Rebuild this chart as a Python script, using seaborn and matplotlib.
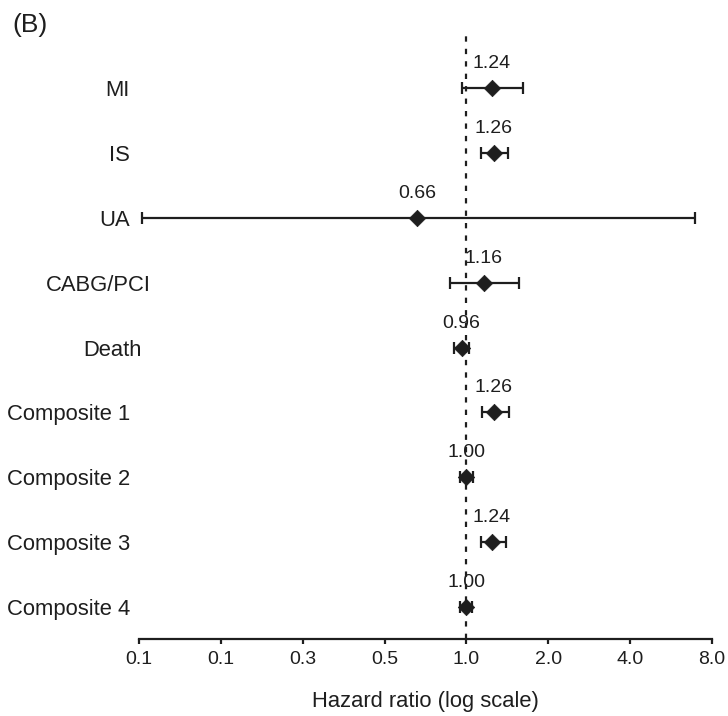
import numpy as np
import pandas as pd
import matplotlib
matplotlib.use("Agg")
import matplotlib.pyplot as plt
import matplotlib.transforms as mtransforms
import seaborn as sns

outcomes = ["MI", "IS", "UA", "CABG/PCI", "Death",
            "Composite 1", "Composite 2", "Composite 3", "Composite 4"]
hazard_ratio = [1.24, 1.26, 0.66, 1.16, 0.96, 1.26, 1.00, 1.24, 1.00]
ci_lower = [0.965, 1.13, 0.064, 0.87, 0.90, 1.14, 0.95, 1.13, 0.95]
ci_upper = [1.62, 1.42, 6.9, 1.56, 1.02, 1.43, 1.06, 1.40, 1.05]

x_ticks = [0.0625, 0.125, 0.25, 0.5, 1.0, 2.0, 4.0, 8.0]
x_tick_labels = ["0.1", "0.1", "0.3", "0.5", "1.0", "2.0", "4.0", "8.0"]

# a couple of labels sit further right in the original
label_offset = {"CABG/PCI": 15.0, "Death": 8.0}

INK = "#1e1e1e"

sns.set_theme(style="white")
plt.rcParams["font.family"] = ["Liberation Sans", "DejaVu Sans"]

df = pd.DataFrame({
    "outcome": outcomes,
    "hr": hazard_ratio,
    "lo": ci_lower,
    "hi": ci_upper,
})
df["pos"] = np.arange(len(df))

fig = plt.figure(figsize=(7.28, 7.16), dpi=100)
ax = fig.add_axes([0.191, 0.1075, 0.787, 0.8505])

# reference line at HR = 1
ax.axvline(1.0, color=INK, lw=1.6, ls=(0, (2.4, 3.2)), zorder=1)

# confidence intervals
ax.errorbar(df["hr"], df["pos"],
            xerr=[df["hr"] - df["lo"], df["hi"] - df["hr"]],
            fmt="none", ecolor=INK, elinewidth=1.6, capsize=4.5,
            capthick=1.6, zorder=2)

# point estimates
sns.scatterplot(data=df, x="hr", y="pos", marker="D", s=70,
                color=INK, edgecolor=INK, linewidth=0.5, ax=ax, zorder=3,
                legend=False)

for _, r in df.iterrows():
    ax.annotate(f"{r['hr']:.2f}", (r["hr"], r["pos"]),
                xytext=(0, 19), textcoords="offset points",
                ha="center", va="center_baseline", fontsize=14, color=INK)

ax.set_xscale("log", base=2)
ax.set_xlim(x_ticks[0], x_ticks[-1])
ax.set_xticks(x_ticks)
ax.set_xticklabels(x_tick_labels)
ax.minorticks_off()
ax.set_ylim(8.5, -0.9)
ax.set_yticks([])

# outcome names
trans = mtransforms.blended_transform_factory(ax.transAxes, ax.transData)
for _, r in df.iterrows():
    dx = -6.5 + label_offset.get(r["outcome"], 0.0)
    ax.annotate(r["outcome"], (0, r["pos"]), xycoords=trans,
                xytext=(dx, 0), textcoords="offset points",
                ha="right", va="center_baseline", fontsize=15.8, color=INK,
                annotation_clip=False)

for side in ("top", "right", "left"):
    ax.spines[side].set_visible(False)
ax.spines["bottom"].set_color(INK)
ax.spines["bottom"].set_linewidth(1.6)
ax.tick_params(axis="x", direction="out", length=3.5, width=1.6,
               color=INK, labelsize=14, labelcolor=INK, pad=5, bottom=True)

ax.set_xlabel("Hazard ratio (log scale)", fontsize=15.8, color=INK, labelpad=17)
ax.set_ylabel("")

fig.text(0.017, 0.965, "(B)", fontsize=19, color=INK, ha="left", va="center")

fig.savefig("out.png", dpi=100)
